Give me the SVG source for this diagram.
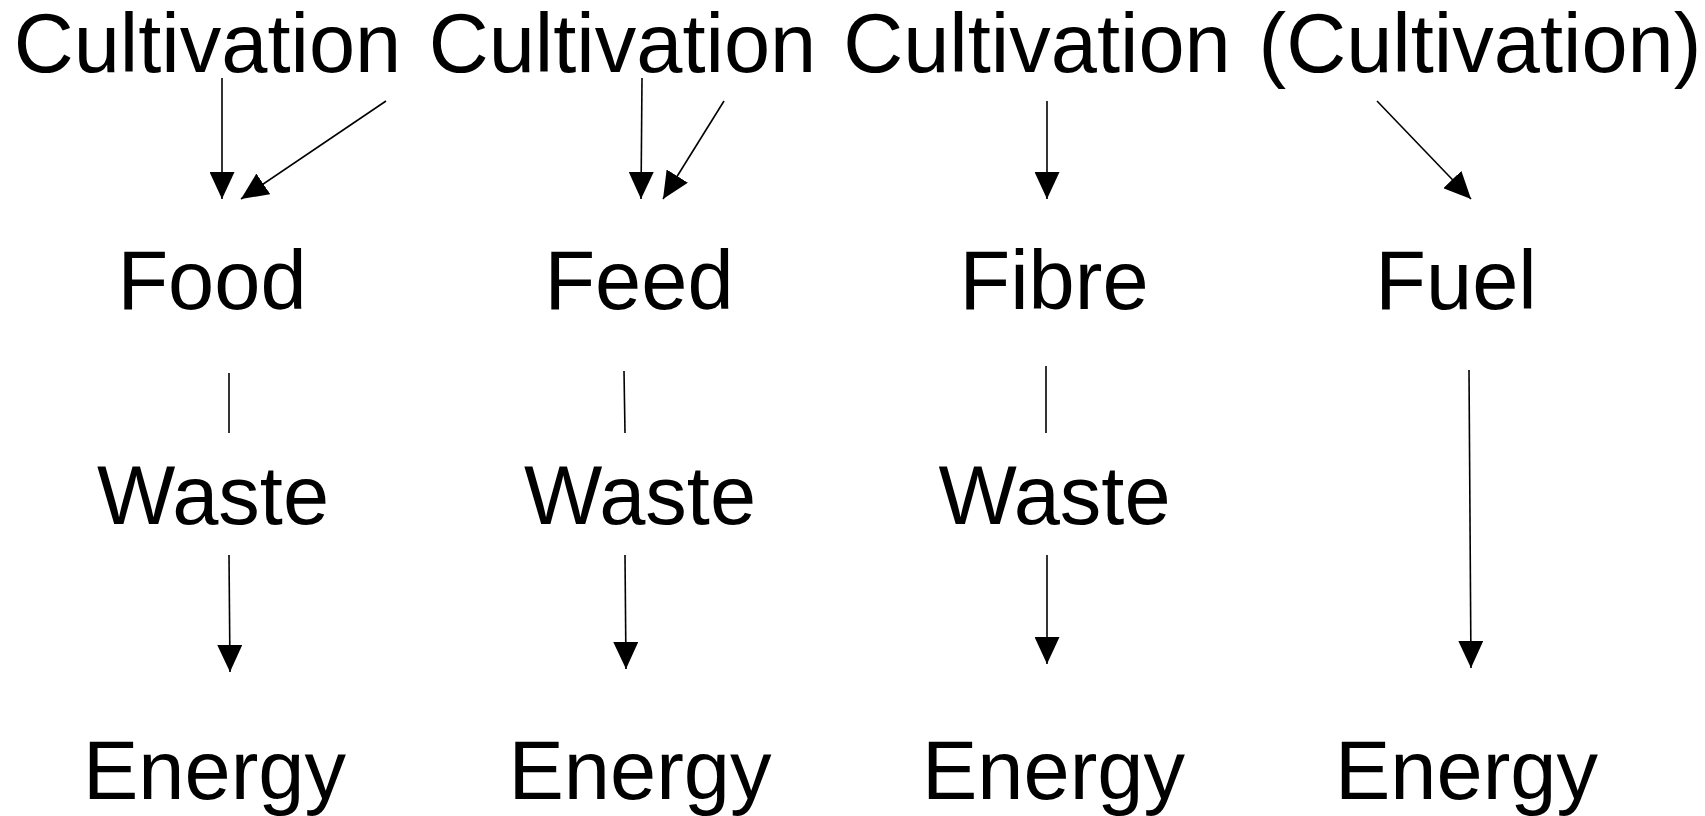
<svg xmlns="http://www.w3.org/2000/svg" width="1705" height="816" viewBox="0 0 1705 816">
<defs>
<style>
text{font-family:"Liberation Sans",Arial,sans-serif;font-size:83px;fill:#000;text-anchor:middle}
.c{stroke:#000;stroke-width:1.6;fill:none}
.a{marker-end:url(#ah)}
</style>
<marker id="ah" markerUnits="userSpaceOnUse" markerWidth="27" markerHeight="25" refX="27" refY="12.5" orient="auto" viewBox="0 0 27 25">
<path d="M0,0 L27,12.5 L0,25 z" fill="#000"/>
</marker>
</defs>
<rect width="1705" height="816" fill="#fff"/>
<g id="cult1"><text x="207.5" y="72">Cultivation</text></g>
<g id="cult2"><text x="622.5" y="72">Cultivation</text></g>
<g id="cult3"><text x="1037" y="72">Cultivation</text></g>
<g id="cult4"><text x="1480" y="72">(Cultivation)</text></g>
<g id="food"><text x="212" y="309">Food</text></g>
<g id="feed"><text x="639" y="309">Feed</text></g>
<g id="fibre"><text x="1054" y="309">Fibre</text></g>
<g id="fuel"><text x="1456" y="309">Fuel</text></g>
<g id="waste1"><text x="213" y="524">Waste</text></g>
<g id="waste2"><text x="640" y="524">Waste</text></g>
<g id="waste3"><text x="1054.5" y="524">Waste</text></g>
<g id="energy1"><text x="214.5" y="799">Energy</text></g>
<g id="energy2"><text x="640" y="799">Energy</text></g>
<g id="energy3"><text x="1053.5" y="799">Energy</text></g>
<g id="energy4"><text x="1466.5" y="799">Energy</text></g>
<g id="connectors">
<line class="c a" x1="222" y1="78" x2="222" y2="199"/>
<line class="c a" x1="386" y1="101" x2="241" y2="199"/>
<line class="c a" x1="642" y1="78" x2="641" y2="199"/>
<line class="c a" x1="724" y1="101" x2="663" y2="199"/>
<line class="c a" x1="1047" y1="101" x2="1047" y2="199"/>
<line class="c a" x1="1377" y1="101" x2="1471" y2="199"/>
<line class="c" x1="229" y1="373" x2="229" y2="433"/>
<line class="c" x1="624" y1="371" x2="625" y2="433"/>
<line class="c" x1="1046" y1="366" x2="1046" y2="433"/>
<line class="c a" x1="1469" y1="370" x2="1471" y2="668"/>
<line class="c a" x1="229" y1="555" x2="230" y2="672"/>
<line class="c a" x1="625" y1="555" x2="626" y2="669"/>
<line class="c a" x1="1047" y1="555" x2="1047" y2="664"/>
</g>
</svg>
